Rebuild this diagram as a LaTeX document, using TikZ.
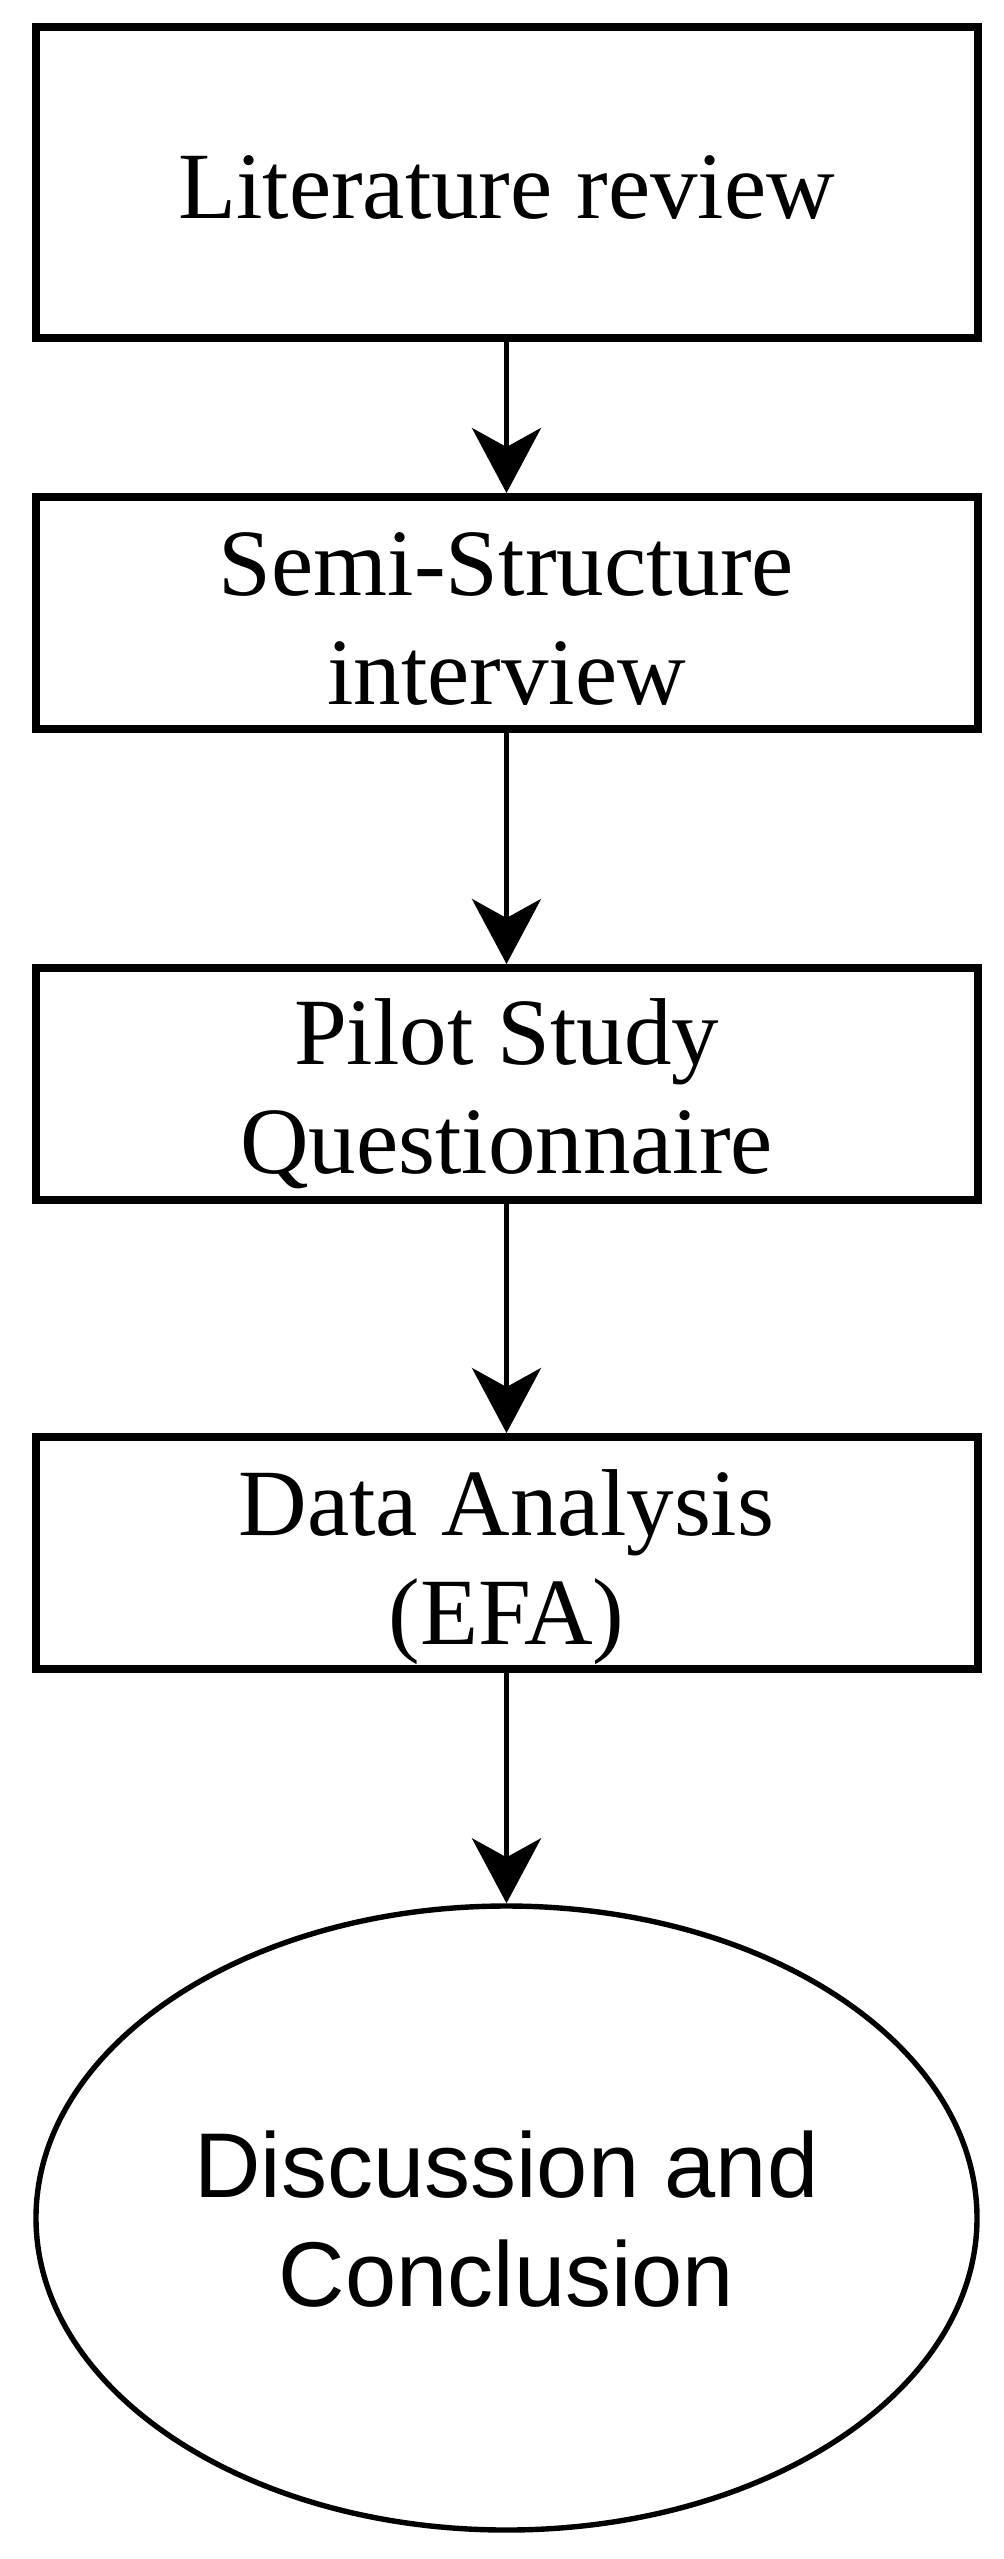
\documentclass[tikz,border=0pt]{standalone}
\usepackage{fontspec}
\setmainfont{Liberation Serif}
\newfontfamily\sansf{Liberation Sans}
\usetikzlibrary{arrows.meta,shapes.geometric}
\begin{document}
\begin{tikzpicture}[x=0.5pt,y=-0.5pt,
  stepbox/.style={draw=black, line width=4pt, rectangle, minimum width=471pt, minimum height=116pt, inner sep=0pt, align=center, text height=91pt, text depth=0pt, font=\fontsize{47.5}{54.5}\selectfont},
  endoval/.style={draw=black, line width=2.7pt, ellipse, minimum width=470.5pt, minimum height=312pt, inner sep=0pt, align=center, text height=88pt, text depth=0pt, font=\sansf\fontsize{46}{54.5}\selectfont},
  flow/.style={line width=2.5pt, -{Stealth[length=32.5pt,width=34.5pt,inset=9.5pt]}}]
\useasboundingbox (0,0) rectangle (1004,2559);
\node[stepbox, minimum height=155.5pt, text height=36pt] (lit) at (506.5,182.5) {Literature review};
\node[stepbox] (semi) at (506.5,613) {Semi-Structure\\interview};
\node[stepbox, text height=89pt] (pilot) at (506.5,1084) {Pilot Study\\Questionnaire};
\node[stepbox] (data) at (506.5,1553) {Data Analysis\\(EFA)};
\node[endoval] (disc) at (506.5,2218) {Discussion and\\Conclusion};
\draw[flow] (lit) -- (semi);
\draw[flow] (semi) -- (pilot);
\draw[flow] (pilot) -- (data);
\draw[flow] (data) -- (disc);
\end{tikzpicture}
\end{document}
